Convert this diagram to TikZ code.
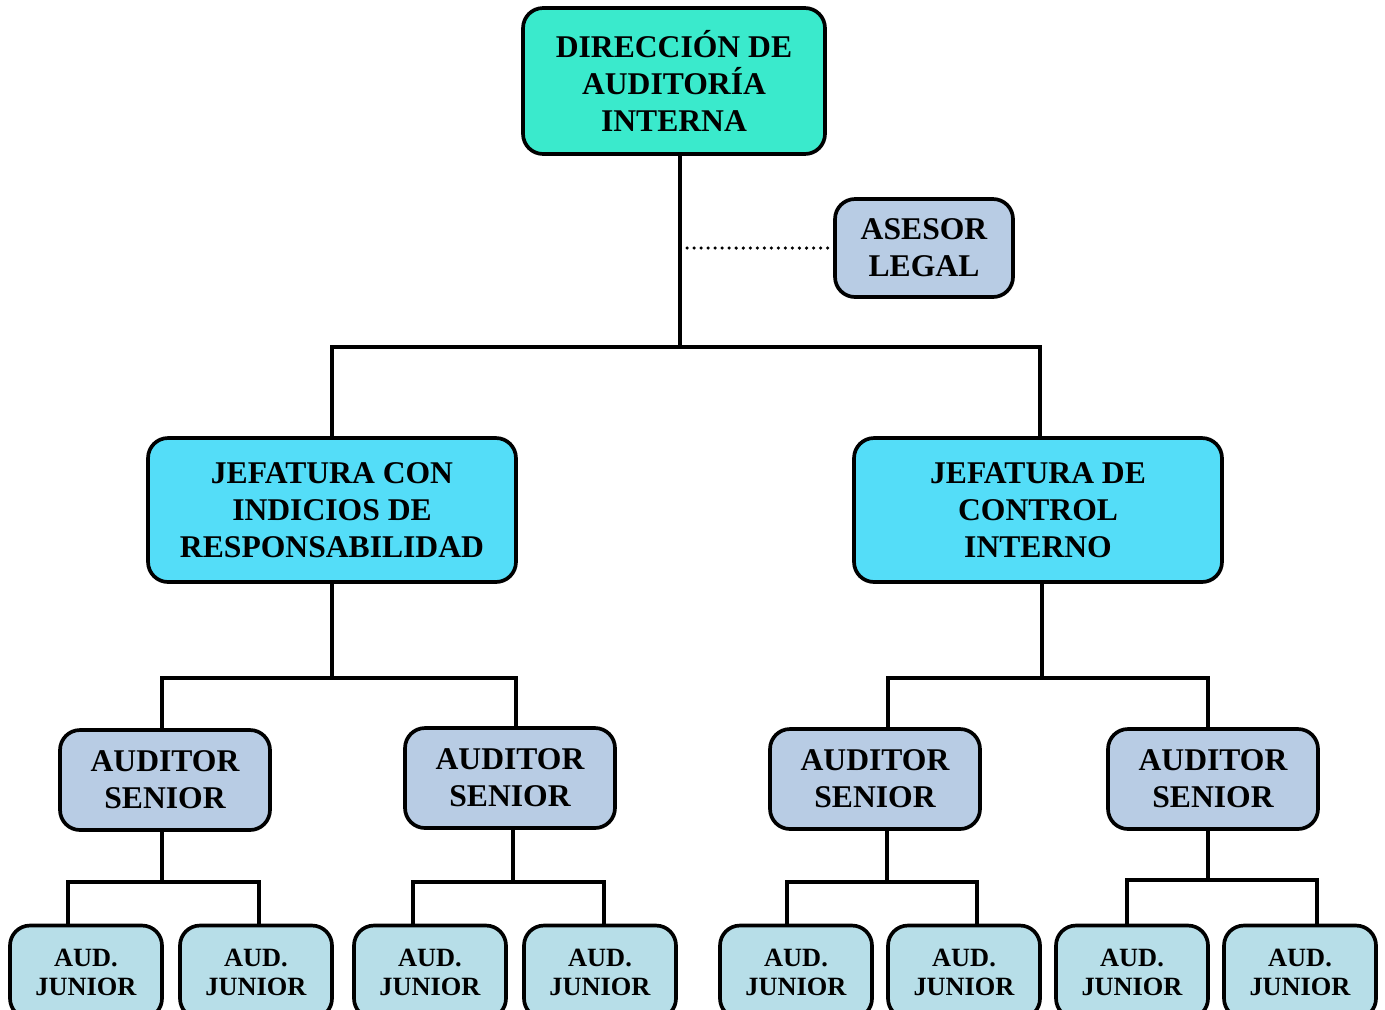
\documentclass[tikz,border=0pt]{standalone}
\usepackage{fontspec}
\setmainfont{Liberation Serif}
\usepackage{xcolor}
\usepackage{tikz}

\definecolor{dirfill}{RGB}{58,234,204}
\definecolor{jefefill}{RGB}{84,221,248}
\definecolor{senfill}{RGB}{184,204,228}
\definecolor{junfill}{RGB}{183,222,232}

\tikzset{
	orgbox/.style={shape=rectangle, draw=black, line width=2.1pt, rounded corners=0.4cm, inner sep=0, align=center, font=\fontsize{18}{21}\selectfont\bfseries},
	dirbox/.style={orgbox, fill=dirfill, minimum width=6.04cm, minimum height=2.92cm},
	legalbox/.style={orgbox, fill=senfill, minimum width=3.56cm, minimum height=1.96cm},
	jefebox/.style={orgbox, fill=jefefill, minimum width=7.36cm, minimum height=2.88cm},
	senbox/.style={orgbox, fill=senfill, minimum width=4.2cm, minimum height=2cm},
	junbox/.style={orgbox, fill=junfill, minimum width=3.04cm, minimum height=1.86cm, font=\fontsize{15}{16.5}\selectfont\bfseries},
	wire/.style={line width=1.8pt},
	dotwire/.style={line width=2pt, line cap=round, dash pattern=on 0pt off 4pt},
}

\begin{document}
\begin{tikzpicture}[x=0.02cm, y=-0.02cm]
	\useasboundingbox (0,0) rectangle (1385,1009);
	% Boxes:
	\node[dirbox] (Dir) at (674,81) {DIRECCIÓN DE\\AUDITORÍA\\INTERNA};
	\node[legalbox] (Legal) at (924,248) {ASESOR\\LEGAL};
	\node[jefebox] (JefA) at (332,510) {JEFATURA CON\\INDICIOS DE\\RESPONSABILIDAD};
	\node[jefebox] (JefB) at (1038,510) {JEFATURA DE\\CONTROL\\INTERNO};
	\node[senbox] (SenA) at (165,780) {AUDITOR\\SENIOR};
	\node[senbox] (SenB) at (510,778) {AUDITOR\\SENIOR};
	\node[senbox] (SenC) at (875,779) {AUDITOR\\SENIOR};
	\node[senbox] (SenD) at (1213,779) {AUDITOR\\SENIOR};
	\node[junbox] (Jun1) at (86,972) {AUD.\\JUNIOR};
	\node[junbox] (Jun2) at (256,972) {AUD.\\JUNIOR};
	\node[junbox] (Jun3) at (430,972) {AUD.\\JUNIOR};
	\node[junbox] (Jun4) at (600,972) {AUD.\\JUNIOR};
	\node[junbox] (Jun5) at (796,972) {AUD.\\JUNIOR};
	\node[junbox] (Jun6) at (964,972) {AUD.\\JUNIOR};
	\node[junbox] (Jun7) at (1132,972) {AUD.\\JUNIOR};
	\node[junbox] (Jun8) at (1300,972) {AUD.\\JUNIOR};
	% Forks:
	\coordinate (Top) at (680,347);
	\coordinate (TopL) at (332,347);
	\coordinate (TopR) at (1040,347);
	\coordinate (ForkA) at (332,678);
	\coordinate (ForkB) at (1042,678);
	\coordinate (ForkAL) at (162,678);
	\coordinate (ForkAR) at (516,678);
	\coordinate (ForkBL) at (888,678);
	\coordinate (ForkBR) at (1208,678);
	\coordinate (Fork1) at (68,882);
	\coordinate (Fork2) at (259,882);
	\coordinate (Fork3) at (413,882);
	\coordinate (Fork4) at (604,882);
	\coordinate (Fork5) at (787,882);
	\coordinate (Fork6) at (977,882);
	\coordinate (Fork7) at (1127,880);
	\coordinate (Fork8) at (1317,880);
	% Wires:
	\draw[wire] (Dir.south -| Top) -- (Top);
	\draw[dotwire] (Legal.west -| Top) -- (Legal.west);
	\draw[wire] (JefA.north) |- (TopL) -- (TopR) -- (TopR |- JefB.north);
	\draw[wire] (JefA.south) -- (ForkA);
	\draw[wire] (JefB.south -| ForkB) -- (ForkB);
	\draw[wire] (ForkAL |- SenA.north) -- (ForkAL) -- (ForkAR) -- (ForkAR |- SenB.north);
	\draw[wire] (ForkBL |- SenC.north) -- (ForkBL) -- (ForkBR) -- (ForkBR |- SenD.north);
	\draw[wire] (SenA.south -| 162,0) -- (162,882);
	\draw[wire] (SenB.south -| 513,0) -- (513,882);
	\draw[wire] (SenC.south -| 887,0) -- (887,882);
	\draw[wire] (SenD.south -| 1208,0) -- (1208,880);
	\draw[wire] (Fork1 |- Jun1.north) -- (Fork1) -- (Fork2) -- (Fork2 |- Jun2.north);
	\draw[wire] (Fork3 |- Jun3.north) -- (Fork3) -- (Fork4) -- (Fork4 |- Jun4.north);
	\draw[wire] (Fork5 |- Jun5.north) -- (Fork5) -- (Fork6) -- (Fork6 |- Jun6.north);
	\draw[wire] (Fork7 |- Jun7.north) -- (Fork7) -- (Fork8) -- (Fork8 |- Jun8.north);
\end{tikzpicture}
\end{document}
